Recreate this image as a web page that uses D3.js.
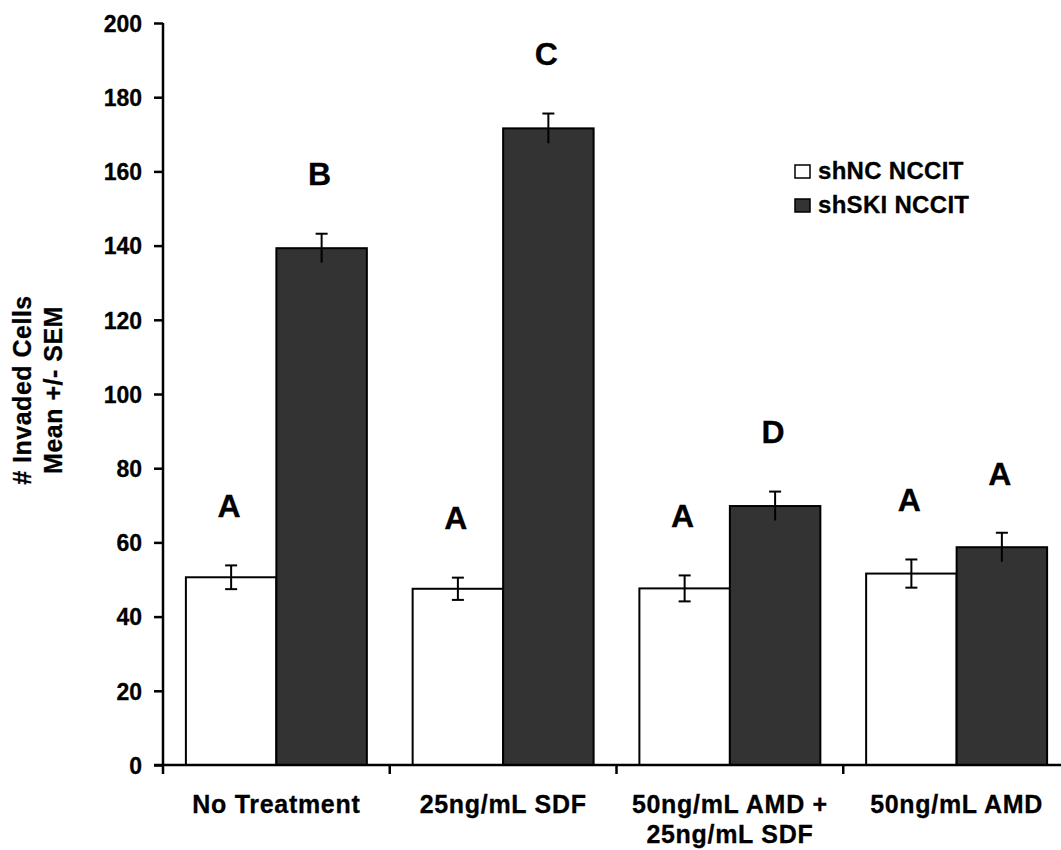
<!DOCTYPE html>
<html>
<head>
<meta charset="utf-8">
<script src="https://cdn.jsdelivr.net/npm/d3@7"></script>
<style>
  body { margin: 0; background: #fff; }
  text { font-family: "Liberation Sans", Arial, sans-serif; font-weight: bold; fill: #000; stroke: #000; stroke-width: 0.3px; }
</style>
</head>
<body>
<svg id="chart"></svg>
<script>
const categories = [['No Treatment'], ['25ng/mL SDF'], ['50ng/mL AMD +', '25ng/mL SDF'], ['50ng/mL AMD']]
const series = ['shNC NCCIT', 'shSKI NCCIT']
const shNC = [50.6, 47.5, 47.6, 51.6]
const shNCsem = [3.2, 3.0, 3.5, 3.8]
const shSKI = [139.3, 171.6, 69.8, 58.7]
const shSKIsem = [3.9, 4.0, 3.9, 3.9]
const lettersNC = ['A', 'A', 'A', 'A']
const lettersSKI = ['B', 'C', 'D', 'A']
const yTicks = [0, 20, 40, 60, 80, 100, 120, 140, 160, 180, 200]

const w = 1061, h = 850
const m = { left: 163, top: 23, right: -9, bottom: 85 }
const fills = ['#ffffff', '#333333']

const svg = d3.select('#chart').attr('width', w).attr('height', h)

const x = d3.scaleBand()
  .domain(d3.range(categories.length))
  .range([m.left, w - m.right])
  .paddingInner(0).paddingOuter(0)

const inner = d3.scaleBand()
  .domain([0, 1])
  .range([0, x.bandwidth()])
  .paddingOuter(0.253).paddingInner(0)

const y = d3.scaleLinear().domain([0, 200]).range([h - m.bottom, m.top])

const rows = categories.map((c, i) => [
  { s: 0, i, v: shNC[i], e: shNCsem[i], l: lettersNC[i] },
  { s: 1, i, v: shSKI[i], e: shSKIsem[i], l: lettersSKI[i] }
])

const groups = svg.append('g').selectAll('g')
  .data(rows).enter()
  .append('g')
  .attr('transform', (d, i) => `translate(${x(i)},0)`)

groups.selectAll('rect')
  .data(d => d).enter()
  .append('rect')
  .attr('x', d => inner(d.s))
  .attr('y', d => y(d.v))
  .attr('width', inner.bandwidth())
  .attr('height', d => y(0) - y(d.v))
  .attr('fill', d => fills[d.s])
  .attr('stroke', '#000')
  .attr('stroke-width', 2)

// error bars (lower half of the dark bars disappears into the fill)
const cap = 6
groups.selectAll('g.err')
  .data(d => d).enter()
  .append('g').attr('class', 'err')
  .each(function (d) {
    const g = d3.select(this)
    const cx = inner(d.s) + inner.bandwidth() / 2
    g.append('line').attr('x1', cx).attr('x2', cx)
      .attr('y1', y(d.v + d.e)).attr('y2', y(d.v - d.e))
      .attr('stroke', '#000').attr('stroke-width', 2)
    g.append('line').attr('x1', cx - cap).attr('x2', cx + cap)
      .attr('y1', y(d.v + d.e)).attr('y2', y(d.v + d.e))
      .attr('stroke', '#000').attr('stroke-width', 2)
    if (d.s === 0) {
      g.append('line').attr('x1', cx - cap).attr('x2', cx + cap)
        .attr('y1', y(d.v - d.e)).attr('y2', y(d.v - d.e))
        .attr('stroke', '#000').attr('stroke-width', 2)
    }
  })

// significance letters
groups.selectAll('text.letter')
  .data(d => d).enter()
  .append('text').attr('class', 'letter')
  .attr('x', d => inner(d.s) + inner.bandwidth() / 2 - 2)
  .attr('y', d => y(d.v + d.e + 13))
  .attr('text-anchor', 'middle')
  .style('font-size', '32px')
  .text(d => d.l)

// y axis
const yAxis = svg.append('g')
  .attr('transform', `translate(${m.left},0)`)
  .call(d3.axisLeft(y).tickValues(yTicks).tickSize(9).tickPadding(12))
yAxis.selectAll('text').style('font-size', '23px').attr('dy', '0.36em')
  .style('font-family', '"Liberation Sans", Arial, sans-serif')
yAxis.selectAll('line, path').attr('stroke', '#000').attr('stroke-width', 2.5)
yAxis.select('path').attr('d', `M0,${y(200)}V${y(0)}`)

// x axis
const xAxis = svg.append('g')
  .attr('transform', `translate(0,${y(0)})`)
xAxis.append('line')
  .attr('x1', m.left - 9).attr('x2', w)
  .attr('stroke', '#000').attr('stroke-width', 2.5)
xAxis.selectAll('line.tick')
  .data(d3.range(categories.length + 1)).enter()
  .append('line').attr('class', 'tick')
  .attr('x1', d => m.left + d * x.bandwidth()).attr('x2', d => m.left + d * x.bandwidth())
  .attr('y1', 0).attr('y2', 9)
  .attr('stroke', '#000').attr('stroke-width', 2.5)
xAxis.selectAll('text')
  .data(categories).enter()
  .append('text')
  .attr('x', (d, i) => x(i) + x.bandwidth() / 2)
  .attr('y', 48)
  .attr('text-anchor', 'middle')
  .style('font-size', '25px')
  .style('letter-spacing', '0.7px')
  .selectAll('tspan')
  .data(d => d).enter()
  .append('tspan')
  .attr('x', function () { return d3.select(this.parentNode).attr('x') })
  .attr('dy', (d, i) => i === 0 ? 0 : 30)
  .text(d => d)

// y axis title
const yt = svg.append('text')
  .attr('transform', `translate(31,${(y(0) + y(200)) / 2 - 4}) rotate(-90)`)
  .attr('text-anchor', 'middle')
  .style('font-size', '25px')
  .style('letter-spacing', '0.5px')
yt.append('tspan').attr('x', 0).attr('dy', 0).text('# Invaded Cells')
yt.append('tspan').attr('x', 0).attr('dy', 31).text('Mean +/- SEM')

// legend
const legend = svg.append('g').attr('transform', 'translate(795,165)')
const li = legend.selectAll('g')
  .data(series).enter()
  .append('g')
  .attr('transform', (d, i) => `translate(0,${i * 34})`)
li.append('rect')
  .attr('width', 15).attr('height', 13)
  .attr('fill', (d, i) => fills[i])
  .attr('stroke', '#000').attr('stroke-width', 1.5)
li.append('text')
  .attr('x', 23).attr('y', 14)
  .style('font-size', '24px')
  .style('letter-spacing', '0.3px')
  .text(d => d)
</script>
</body>
</html>
